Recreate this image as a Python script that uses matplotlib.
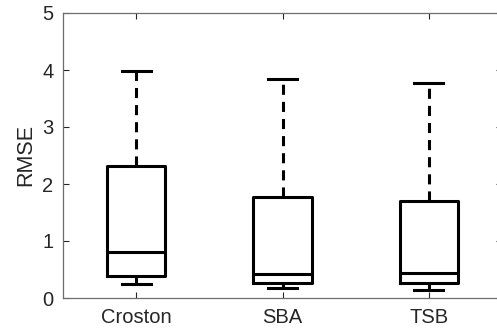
import matplotlib.pyplot as plt

plt.rcParams['font.family'] = ['Liberation Sans', 'DejaVu Sans']

# box statistics
methods = ['Croston', 'SBA', 'TSB']
whislo = [0.25, 0.17, 0.14]
q1 = [0.39, 0.26, 0.26]
med = [0.81, 0.42, 0.43]
q3 = [2.32, 1.77, 1.71]
whishi = [3.99, 3.84, 3.77]

stats = []
for i in range(len(methods)):
    stats.append(dict(label=methods[i], whislo=whislo[i], q1=q1[i], med=med[i],
                      q3=q3[i], whishi=whishi[i], fliers=[]))

fig = plt.figure(figsize=(4.97, 3.36), dpi=100)
ax = fig.add_axes([63/497, 38/336, 439/497, 285/336])

lw = 2.2
ax.bxp(stats, positions=[1, 2, 3], widths=0.4, showfliers=False,
       boxprops=dict(color='black', linewidth=lw),
       medianprops=dict(color='black', linewidth=lw),
       whiskerprops=dict(color='black', linewidth=lw, linestyle=(0, (3.3, 2.3))),
       capprops=dict(color='black', linewidth=lw),
       capwidths=0.2)

ax.set_xlim(0.5, 3.5)
ax.set_ylim(0, 5)
ax.set_yticks([0, 1, 2, 3, 4, 5])
ax.set_ylabel('RMSE', fontsize=15.5, color='#262626', labelpad=4)
ax.tick_params(direction='in', length=4, width=0.8, colors='#262626',
               labelsize=14.5, top=True, right=True, pad=7)
for s in ax.spines.values():
    s.set_color('#6e6e6e')
    s.set_linewidth(0.9)

fig.savefig('out.png', dpi=100)
